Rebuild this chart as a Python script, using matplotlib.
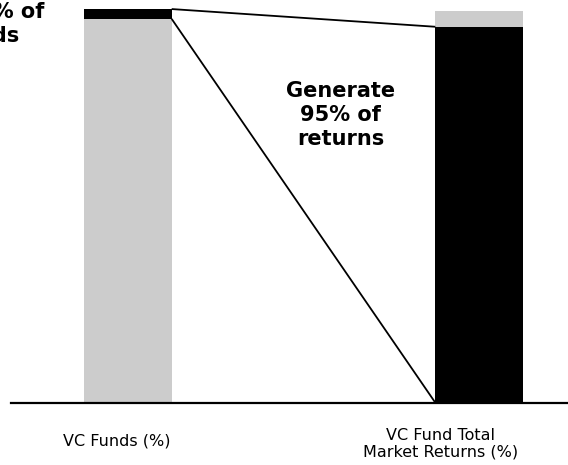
import matplotlib
matplotlib.use('Agg')
import matplotlib.pyplot as plt
import matplotlib.transforms as mtrans

# ---- data ----
categories = ['VC Funds (%)', 'VC Fund Total\nMarket Returns (%)']
lower_values = [97.5, 95.5]   # lower segment of each bar
upper_values = [2.5, 4.0]     # upper segment of each bar
left_note = 'Top 5% of\nfunds'
right_note = 'Generate\n95% of\nreturns'

# ---- style ----
GRAY = '#cccccc'
BLACK = '#000000'
lower_colors = [GRAY, BLACK]
upper_colors = [BLACK, GRAY]
FONT = 'DejaVu Sans'
W = 0.25

fig = plt.figure(figsize=(5.68, 4.65), dpi=100)
ax = fig.add_axes([11 / 568, 62.3 / 465, (596 - 11) / 568, 402.7 / 465])

xs = list(range(len(categories)))
ax.bar(xs, lower_values, width=W, color=lower_colors, linewidth=0)
ax.bar(xs, upper_values, width=W, bottom=lower_values, color=upper_colors, linewidth=0)

# connector lines
x0 = xs[0] + W / 2
x1 = xs[1] - W / 2
ax.plot([x0, x1], [lower_values[0] + upper_values[0], lower_values[1]],
        color=BLACK, lw=1.3, clip_on=False, solid_capstyle='butt')
ax.plot([x0, x1], [lower_values[0], 0],
        color=BLACK, lw=1.3, clip_on=False, solid_capstyle='butt')

ax.set_xlim(-0.332, 1.332)
ax.set_ylim(0, 102.3)
for s in ['top', 'right', 'left']:
    ax.spines[s].set_visible(False)
ax.spines['bottom'].set_linewidth(1.6)
ax.set_xticks([])
ax.set_yticks([])

# notes
ax.text(0.606, 73.1, right_note, ha='center', va='center', fontsize=15,
        fontweight='bold', family=FONT, linespacing=1.25)
ax.text(-0.40, 96.3, left_note, ha='center', va='center', fontsize=15,
        fontweight='bold', family=FONT, linespacing=1.25, clip_on=False)

# category labels
tr = mtrans.blended_transform_factory(ax.transData, ax.transAxes)
label_x = [-0.031, 0.891]
label_y = [-0.095, -0.102]
for lx, ly, lab in zip(label_x, label_y, categories):
    ax.text(lx, ly, lab, transform=tr, ha='center', va='center', fontsize=11.5,
            family=FONT, linespacing=1.05)

fig.savefig('out.png', dpi=100)
